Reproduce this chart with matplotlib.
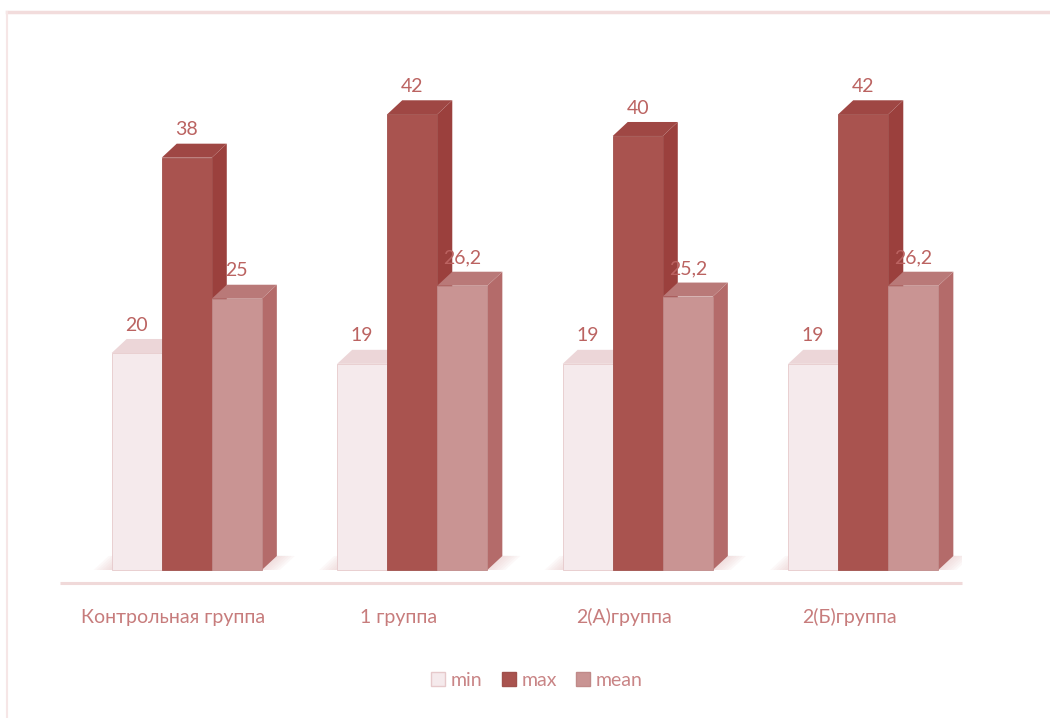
import matplotlib
matplotlib.use("Agg")
import matplotlib.pyplot as plt
from matplotlib.patches import Polygon, Patch
from matplotlib.lines import Line2D

categories = ["Контрольная группа", "1 группа", "2(А)группа", "2(Б)группа"]
series_names = ["min", "max", "mean"]
min_vals = [20, 19, 19, 19]
max_vals = [38, 42, 40, 42]
mean_vals = [25, 26.2, 25.2, 26.2]
value_labels = [["20", "19", "19", "19"],
                ["38", "42", "40", "42"],
                ["25", "26,2", "25,2", "26,2"]]

front_colors = ["#f5eaec", "#a9534f", "#c99493"]
side_colors = ["#e9d3d5", "#9b403d", "#b46b6a"]
top_colors = ["#ecd6d8", "#9f4744", "#b97978"]
edge_colors = ["#e6c9cb", "#a0504c", "#c08a89"]
label_color = "#bb6361"
cat_color = "#c77c7c"

plt.rcParams["font.family"] = ["Lato", "DejaVu Sans"]

W, H = 1050, 718
fig = plt.figure(figsize=(W / 100, H / 100), dpi=100)

ymin, ymax = -1.2, 44.0
px_per_unit = 10.85
ax_bottom_px = 583
ax_height_px = (ymax - ymin) * px_per_unit
ax = fig.add_axes([60 / W, (H - ax_bottom_px) / H, 902 / W, ax_height_px / H])
ax.set_xlim(-0.5, 3.5)
ax.set_ylim(ymin, ymax)
ax.axis("off")

x_px_per_unit = 902 / 4.0
depth_x = 15 / x_px_per_unit
depth_y = 14 / px_per_unit
bar_w = 0.222
group_shift = 14 / x_px_per_unit

series = [min_vals, max_vals, mean_vals]

for i in range(len(categories)):
    xl = i + group_shift - 1.5 * bar_w
    xr = i + group_shift + 1.5 * bar_w
    # soft floor shadow
    for k in range(6):
        grow = (6 - k) * 3 / x_px_per_unit
        shadow = Polygon([(xl - grow, 0), (xr + grow, 0),
                          (xr + depth_x + grow, depth_y),
                          (xl + depth_x - grow, depth_y)],
                         closed=True, facecolor="#e9c9ca", edgecolor="none",
                         alpha=0.12, zorder=1)
        ax.add_patch(shadow)
    for j, vals in enumerate(series):
        v = vals[i]
        x0 = i + group_shift + (j - 1.5) * bar_w
        x1 = x0 + bar_w
        z = 2 + j * 3
        side = Polygon([(x1, 0), (x1 + depth_x, depth_y), (x1 + depth_x, v + depth_y), (x1, v)],
                       closed=True, facecolor=side_colors[j], edgecolor="none", zorder=z)
        top = Polygon([(x0, v), (x1, v), (x1 + depth_x, v + depth_y), (x0 + depth_x, v + depth_y)],
                      closed=True, facecolor=top_colors[j], edgecolor="none", zorder=z + 1)
        ax.add_patch(side)
        ax.add_patch(top)
        ax.bar(x0, v, width=bar_w, align="edge", color=front_colors[j],
               edgecolor=edge_colors[j], linewidth=0.6, zorder=z + 2)
        ax.annotate(value_labels[j][i], xy=(x0 + bar_w / 2, v), xytext=(0, 14),
                    textcoords="offset points", ha="center", va="bottom",
                    fontsize=14, color=label_color, zorder=20)

ax.plot([-0.5, 3.5], [ymin, ymin], color="#f0d9d9", lw=2.2, solid_capstyle="butt", clip_on=False, zorder=1)

for i, c in enumerate(categories):
    ax.text(i, ymin - 34 / px_per_unit, c, ha="center", va="center", fontsize=14,
            color=cat_color)

handles = [Patch(facecolor=front_colors[j], edgecolor=edge_colors[j]) for j in range(3)]
leg = fig.legend(handles, series_names, loc="center", bbox_to_anchor=(537 / W, 1 - 680 / H),
                 ncol=3, frameon=False, fontsize=14, handlelength=0.7, handleheight=0.7,
                 handletextpad=0.3, columnspacing=1.0, labelcolor="#c98586")

fig.add_artist(Line2D([7 / W, 1.0], [1 - 12 / H, 1 - 12 / H], transform=fig.transFigure,
                      color="#f2dcdc", lw=2.5))
fig.add_artist(Line2D([7 / W, 7 / W], [1 - 12 / H, 0], transform=fig.transFigure,
                      color="#f6e6e6", lw=1.5))

fig.savefig("out.png", dpi=100)
